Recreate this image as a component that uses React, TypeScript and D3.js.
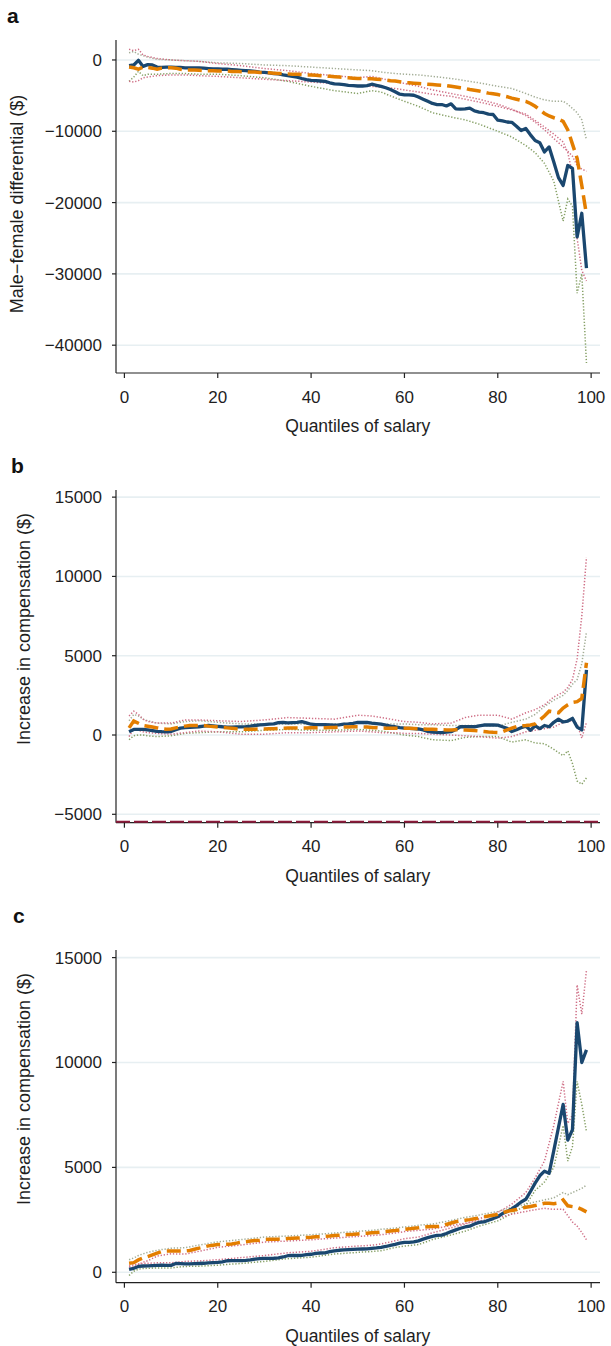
import React from 'react';
import * as d3 from 'd3';

// ---------- data ----------
const quantiles = d3.range(1, 100);
const ciQuantiles = [1, 2, 3, 4, 5, 7, 10, 13, 16, 20, 25, 30, 35, 40, 45, 50, 53, 55, 58, 60, 63, 66, 70, 73, 76, 80, 83, 86, 88, 90, 92, 94, 95, 96, 97, 98, 99];
const xTicks = [0, 20, 40, 60, 80, 100];

const aTicks = [0, -10000, -20000, -30000, -40000];
const bTicks = [15000, 10000, 5000, 0, -5000];
const cTicks = [15000, 10000, 5000, 0];

// Panel a: male-female differential
const aBlue = [
  -800, -700, -50, -900, -650, -700, -1000, -1050, -1000, -1000,
  -1050, -1050, -1100, -1100, -1100, -1100, -1150, -1200, -1250, -1250,
  -1300, -1300, -1350, -1400, -1450, -1500, -1550, -1600, -1700, -1750,
  -1800, -1900, -1950, -2100, -2200, -2300, -2400, -2600, -2750, -2850,
  -2900, -2950, -3000, -3200, -3350, -3400, -3450, -3550, -3600, -3650,
  -3650, -3600, -3400, -3550, -3700, -3900, -4150, -4450, -4800, -4900,
  -4900, -4950, -5200, -5500, -5800, -6100, -6250, -6250, -6450, -6150,
  -6850, -6900, -6850, -6750, -7150, -7300, -7400, -7600, -7650, -8450,
  -8550, -8700, -8750, -9300, -9900, -9600, -10500, -11300, -11600, -12900,
  -12200, -14300, -16500, -17600, -14800, -15200, -24800, -21500, -29200,
];
const aOrange = [
  -1000, -1100, -1300, -1000, -1050, -1150, -1300, -1150, -1100, -1100,
  -1150, -1300, -1400, -1400, -1400, -1450, -1500, -1500, -1500, -1550,
  -1550, -1550, -1600, -1600, -1650, -1650, -1700, -1700, -1750, -1750,
  -1800, -1850, -1900, -1900, -1950, -2000, -2000, -2050, -2100, -2100,
  -2150, -2200, -2250, -2300, -2350, -2400, -2450, -2500, -2550, -2600,
  -2600, -2650, -2650, -2700, -2750, -2800, -2900, -2950, -3050, -3150,
  -3200, -3250, -3300, -3350, -3400, -3450, -3500, -3550, -3600, -3700,
  -3800, -3900, -4000, -4150, -4250, -4350, -4500, -4650, -4750, -4850,
  -5000, -5150, -5350, -5500, -5650, -5800, -6100, -6500, -7000, -7500,
  -7850, -8100, -8300, -8600, -9800, -11800, -13800, -17600, -21700,
];
const aBlueHi = [1500, 1300, 1500, 700, 500, 200, 0, -100, -200, -500, -800, -1200, -1500, -1900, -2200, -2500, -2300, -2600, -3000, -3300, -3700, -4200, -4700, -5100, -5500, -6200, -6900, -7800, -8700, -9800, -11000, -12200, -12800, -13500, -14800, -15300, -15600];
const aBlueLo = [-3000, -2400, -1600, -2200, -2000, -2000, -1900, -1900, -2000, -2000, -2200, -2500, -3000, -3700, -4300, -4700, -4300, -4500, -5300, -5800, -6500, -7400, -8000, -8400, -9000, -10000, -10800, -12000, -13000, -14500, -17000, -22600, -19500, -20500, -32700, -30000, -42500];
const aOrangeHi = [1000, 1200, 800, 600, 400, 100, 0, -100, -200, -400, -500, -700, -800, -1000, -1200, -1400, -1500, -1700, -1900, -2000, -2100, -2300, -2600, -2900, -3200, -3700, -4000, -4700, -5200, -5600, -5800, -5800, -6200, -6800, -7400, -8400, -11200];
const aOrangeLo = [-3000, -3100, -2900, -2500, -2400, -2200, -2100, -2100, -2200, -2300, -2500, -2700, -2900, -3100, -3300, -3600, -3700, -3800, -4000, -4200, -4500, -4800, -5100, -5500, -5900, -6500, -7000, -7600, -8500, -9400, -10400, -11500, -13000, -16000, -25000, -29500, -31000];

// Panel b: increase in compensation
const bBlue = [
  210, 350, 360, 350, 330, 280, 230, 210, 200, 220,
  330, 430, 470, 480, 500, 520, 560, 600, 580, 550,
  520, 500, 500, 510, 510, 530, 560, 600, 640, 660,
  680, 700, 780, 790, 760, 780, 800, 840, 760, 680,
  660, 650, 660, 640, 620, 640, 680, 700, 730, 790,
  800, 790, 750, 720, 680, 620, 560, 520, 470, 440,
  420, 400, 380, 320, 230, 180, 160, 150, 180, 210,
  350, 520, 530, 520, 520, 580, 630, 630, 640, 620,
  520, 420, 220, 330, 460, 560, 300, 580, 400, 600,
  520, 800, 1000, 820, 880, 1050, 500, 320, 4100,
];
const bOrange = [
  450, 880, 740, 600, 550, 500, 450, 400, 370, 380,
  450, 510, 560, 600, 600, 600, 600, 560, 530, 510,
  480, 450, 420, 390, 370, 360, 360, 370, 380, 380,
  390, 400, 420, 430, 440, 440, 440, 440, 440, 450,
  450, 460, 460, 470, 480, 490, 500, 510, 520, 520,
  510, 500, 480, 460, 440, 430, 420, 420, 420, 420,
  420, 410, 400, 380, 370, 360, 340, 330, 320, 320,
  330, 330, 320, 300, 280, 250, 220, 190, 170, 160,
  200, 320, 430, 530, 580, 600, 630, 700, 950, 1200,
  1500, 1450, 1400, 1700, 1900, 2050, 2100, 2300, 4550,
];
const bBlueHi = [1200, 1500, 1300, 1000, 850, 750, 750, 950, 950, 900, 850, 950, 1100, 1050, 1000, 1250, 1200, 1100, 950, 850, 800, 700, 750, 1100, 1250, 1250, 1000, 1400, 1600, 1900, 2400, 2700, 3000, 3500, 4800, 7500, 11200];
const bBlueLo = [-300, -50, 0, 0, -50, -100, -50, 100, 150, 200, 200, 300, 350, 300, 300, 350, 300, 250, 100, 0, -100, -300, -350, -150, -100, -100, -450, -300, -500, -550, -900, -1300, -1000, -1800, -2900, -3100, -2700];
const bOrangeHi = [900, 1300, 1200, 1000, 900, 750, 700, 850, 900, 800, 700, 700, 700, 700, 700, 750, 700, 700, 700, 700, 650, 650, 600, 600, 600, 550, 800, 1000, 1300, 1800, 2200, 2500, 2800, 3200, 3500, 4500, 6500];
const bOrangeLo = [-100, 400, 300, 200, 150, 100, 50, 150, 250, 200, 50, 50, 150, 150, 200, 250, 200, 150, 150, 100, 100, 50, 0, -50, -100, -200, -100, 200, 300, 400, 500, 800, 900, 900, 700, -200, 800];

// Panel c: increase in compensation
const cBlue = [
  140, 190, 280, 300, 310, 320, 330, 340, 330, 330,
  420, 410, 400, 400, 410, 420, 430, 450, 460, 470,
  500, 550, 560, 560, 560, 570, 590, 630, 650, 660,
  660, 670, 690, 730, 790, 800, 800, 810, 840, 860,
  900, 920, 930, 980, 1020, 1050, 1070, 1080, 1090, 1100,
  1110, 1120, 1140, 1160, 1190, 1230, 1280, 1330, 1390, 1430,
  1430, 1450, 1500, 1580, 1650, 1710, 1760, 1770, 1850, 1940,
  2020, 2100, 2160, 2200, 2300, 2380, 2400, 2480, 2560, 2650,
  2800, 2900, 3020, 3180, 3350, 3480, 3850, 4250, 4600, 4820,
  4720, 5800, 6900, 8000, 6300, 6800, 11900, 10000, 10600,
];
const cOrange = [
  430, 460, 590, 680, 750, 830, 910, 990, 1010, 1020,
  1020, 1020, 1020, 1040, 1100, 1150, 1200, 1260, 1290, 1320,
  1330, 1340, 1350, 1390, 1430, 1460, 1490, 1510, 1530, 1560,
  1570, 1580, 1580, 1590, 1610, 1620, 1630, 1640, 1660, 1670,
  1690, 1700, 1720, 1730, 1750, 1760, 1780, 1800, 1810, 1830,
  1850, 1860, 1880, 1900, 1920, 1940, 1970, 1990, 2020, 2050,
  2070, 2100, 2120, 2150, 2170, 2180, 2180, 2200, 2280, 2350,
  2410, 2450, 2480, 2510, 2550, 2590, 2640, 2680, 2720, 2760,
  2840, 2900, 2950, 2990, 3050, 3100, 3140, 3180, 3240, 3290,
  3290, 3270, 3300, 3450, 3170, 3130, 3100, 3000, 2880,
];
const cBlueHi = [300, 350, 400, 420, 430, 450, 450, 520, 540, 600, 700, 800, 930, 1000, 1170, 1250, 1290, 1350, 1500, 1600, 1680, 1880, 2120, 2300, 2550, 2850, 3250, 3800, 4500, 5300, 7000, 9100, 7100, 7500, 13700, 12300, 14400];
const cBlueLo = [-150, 50, 150, 180, 190, 210, 210, 280, 290, 340, 420, 520, 650, 720, 870, 950, 990, 1030, 1180, 1250, 1320, 1560, 1780, 1960, 2200, 2450, 2800, 3200, 3900, 4300, 5000, 7000, 5300, 6000, 9100, 8000, 6700];
const cOrangeHi = [600, 680, 800, 880, 950, 1050, 1150, 1170, 1300, 1450, 1560, 1680, 1730, 1790, 1870, 1950, 2000, 2050, 2110, 2160, 2240, 2300, 2470, 2620, 2730, 2900, 3100, 3250, 3350, 3450, 3550, 3800, 3700, 3800, 3900, 4000, 4150];
const cOrangeLo = [260, 250, 380, 480, 550, 770, 880, 870, 1000, 1190, 1300, 1440, 1490, 1550, 1630, 1710, 1750, 1790, 1870, 1940, 2000, 2060, 2230, 2340, 2450, 2600, 2770, 2900, 2980, 3050, 3000, 3000, 2700, 2400, 2200, 1900, 1550];

// ---------- styles ----------
const FONT = '"Liberation Sans", Arial, Helvetica, sans-serif';
const NAVY = '#1a476f';
const ORANGE = '#e37e00';
const PINK = '#cf6f86';
const GREEN = '#86a066';
const GRAYGREEN = '#a3ad96';
const GRID = '#e7eff2';
const AXIS = '#222';
const TEXT = '#1e1e1e';

const X_LEFT = 116;
const X_RIGHT = 600;

type PanelSpec = {
  label: string;
  labelX: number;
  labelY: number;
  yTitle: string;
  yTitleX: number;
  yTitleY: number;
  top: number;
  bottom: number;
  domain: [number, number];
  ticks: number[];
  blue: number[];
  orange: number[];
  blueHi: number[];
  blueLo: number[];
  orangeHi: number[];
  orangeLo: number[];
  refLine?: boolean;
};

const panels: PanelSpec[] = [
  {
    label: 'a', labelX: 7, labelY: 23,
    yTitle: 'Male\u2212female differential ($)', yTitleX: 23, yTitleY: 204,
    top: 40, bottom: 373, domain: [2800, -43900], ticks: aTicks,
    blue: aBlue, orange: aOrange, blueHi: aBlueHi, blueLo: aBlueLo, orangeHi: aOrangeHi, orangeLo: aOrangeLo,
  },
  {
    label: 'b', labelX: 11, labelY: 473,
    yTitle: 'Increase in compensation ($)', yTitleX: 30, yTitleY: 629,
    top: 490, bottom: 822.7, domain: [15450, -5530], ticks: bTicks,
    blue: bBlue, orange: bOrange, blueHi: bBlueHi, blueLo: bBlueLo, orangeHi: bOrangeHi, orangeLo: bOrangeLo,
    refLine: true,
  },
  {
    label: 'c', labelX: 13, labelY: 923,
    yTitle: 'Increase in compensation ($)', yTitleX: 30, yTitleY: 1089,
    top: 950, bottom: 1282.7, domain: [15362, -496], ticks: cTicks,
    blue: cBlue, orange: cOrange, blueHi: cBlueHi, blueLo: cBlueLo, orangeHi: cOrangeHi, orangeLo: cOrangeLo,
  },
];

const x = d3.scaleLinear().domain([-1.8, 101.9]).range([X_LEFT, X_RIGHT]);
const fmt = d3.format('d');

function Panel({ p }: { p: PanelSpec }) {
  const y = d3.scaleLinear().domain(p.domain).range([p.top, p.bottom]);
  const line = d3.line<[number, number]>().x((d) => x(d[0])).y((d) => y(d[1]));
  const main = (vals: number[]) => line(quantiles.map((q, i) => [q, vals[i]] as [number, number])) || '';
  const ci = (vals: number[]) => line(ciQuantiles.map((q, i) => [q, vals[i]] as [number, number])) || '';
  const dotted = { fill: 'none', strokeWidth: 1.5, strokeDasharray: '1.3,1.8' };
  return (
    <g>
      <text x={p.labelX} y={p.labelY} fontFamily={FONT} fontWeight="bold" fontSize={21} fill="#111">{p.label}</text>
      {/* gridlines */}
      {p.ticks.map((t) => (
        <line key={'g' + t} x1={X_LEFT} x2={X_RIGHT} y1={y(t)} y2={y(t)} stroke={GRID} strokeWidth={1.6} />
      ))}
      {/* confidence bands */}
      <path d={ci(p.orangeHi)} stroke={GRAYGREEN} {...dotted} />
      <path d={ci(p.blueLo)} stroke={GREEN} {...dotted} />
      <path d={ci(p.orangeLo)} stroke={PINK} {...dotted} />
      <path d={ci(p.blueHi)} stroke={PINK} {...dotted} />
      {/* estimates */}
      <path d={main(p.blue)} fill="none" stroke={NAVY} strokeWidth={3.3} strokeLinejoin="round" />
      <path d={main(p.orange)} fill="none" stroke={ORANGE} strokeWidth={3.5} strokeDasharray="14,6" />
      {/* axes */}
      <line x1={X_LEFT} x2={X_LEFT} y1={p.top} y2={p.bottom} stroke={AXIS} strokeWidth={1.2} />
      <line x1={X_LEFT} x2={X_RIGHT} y1={p.bottom} y2={p.bottom} stroke={AXIS} strokeWidth={1.2} />
      {p.refLine && (
        <line x1={X_LEFT} x2={X_RIGHT} y1={p.bottom - 1} y2={p.bottom - 1} stroke="#8c1b3b" strokeWidth={2} strokeDasharray="14,4" />
      )}
      {p.ticks.map((t) => (
        <g key={'yt' + t}>
          <line x1={X_LEFT - 4} x2={X_LEFT} y1={y(t)} y2={y(t)} stroke={AXIS} strokeWidth={1.2} />
          <text x={102} y={y(t) + 6} textAnchor="end" fontFamily={FONT} fontSize={17} fill={TEXT}>{fmt(t)}</text>
        </g>
      ))}
      {xTicks.map((t) => (
        <g key={'xt' + t}>
          <line x1={x(t)} x2={x(t)} y1={p.bottom} y2={p.bottom + 5} stroke={AXIS} strokeWidth={1.2} />
          <text x={x(t)} y={p.bottom + 29.5} textAnchor="middle" fontFamily={FONT} fontSize={17} fill={TEXT}>{t}</text>
        </g>
      ))}
      <text x={(x(0) + x(100)) / 2} y={p.bottom + 59} textAnchor="middle" fontFamily={FONT} fontSize={17.5} fill={TEXT}>Quantiles of salary</text>
      <text transform={`translate(${p.yTitleX},${p.yTitleY}) rotate(-90)`} textAnchor="middle" fontFamily={FONT} fontSize={18} fill={TEXT}>{p.yTitle}</text>
    </g>
  );
}

export default function App() {
  return (
    <svg width={611} height={1346} style={{ position: 'absolute', left: 0, top: 0, background: '#fff' }}>
      <rect x={0} y={0} width={611} height={1346} fill="#fff" />
      {panels.map((p) => <Panel key={p.label} p={p} />)}
    </svg>
  );
}
